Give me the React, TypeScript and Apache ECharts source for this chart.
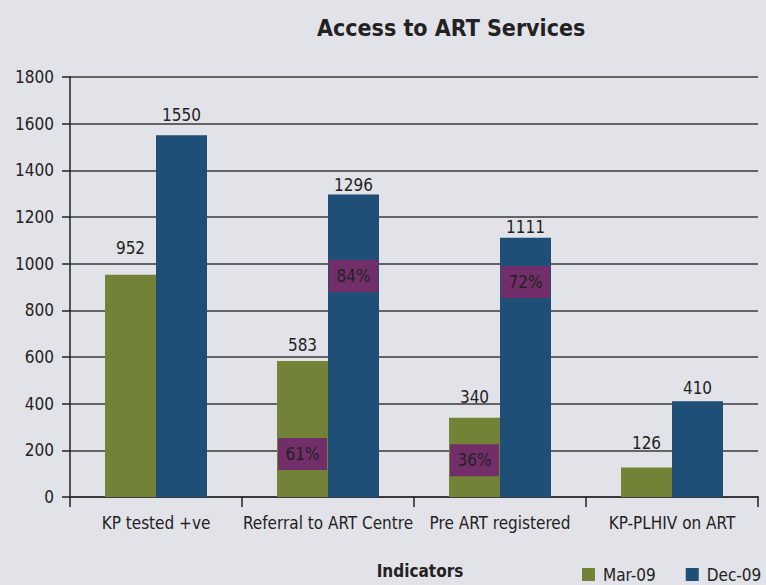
import React, { useEffect, useRef } from "react";
import * as echarts from "echarts";

const categories = ["KP tested +ve", "Referral to ART Centre", "Pre ART registered", "KP-PLHIV on ART"];
const seriesNames = ["Mar-09", "Dec-09"];
const mar09 = [952, 583, 340, 126];
const dec09 = [1550, 1296, 1111, 410];

// percentage badges (category, vertical position in value units, text)
const marBadgeCats = ["Referral to ART Centre", "Pre ART registered"];
const marBadgeValues = [184, 158];
const marBadgeTexts = ["61%", "36%"];
const decBadgeCats = ["Referral to ART Centre", "Pre ART registered"];
const decBadgeValues = [947, 921];
const decBadgeTexts = ["84%", "72%"];

// label placement styles (distance above each bar, px)
const marLabelDist = [18, 7, 12, 16];
const decLabelDist = [12, 1, 2, 5];

const FONT = "'DejaVu Sans Condensed', 'DejaVu Sans', sans-serif";
const TEXT = "#222222";
const GREEN = "#728337";
const BLUE = "#1f4e77";
const PURPLE = "#722e69";

export default function App() {
  const ref = useRef<HTMLDivElement>(null);
  useEffect(() => {
    if (!ref.current) return;
    const chart = echarts.init(ref.current, undefined, { renderer: "svg" });
    const badgeSeries = (cats: string[], vals: number[], texts: string[], offset: number) => ({
      type: "scatter",
      z: 5,
      symbol: "rect",
      symbolSize: [49, 32],
      symbolOffset: [offset, 0],
      itemStyle: { color: PURPLE, opacity: 1 },
      label: {
        show: true,
        position: "inside",
        color: TEXT,
        fontFamily: FONT,
        fontSize: 17,
        formatter: (p: any) => texts[p.dataIndex],
      },
      silent: true,
      data: cats.map((c, i) => [c, vals[i]]),
    });
    const barData = (vals: number[], dists: number[]) =>
      vals.map((v, i) => ({ value: v, label: { distance: dists[i] } }));
    const barLabel = { show: true, position: "top", color: TEXT, fontFamily: FONT, fontSize: 17 };
    chart.setOption({
      animation: false,
      backgroundColor: "#e2e3e8",
      textStyle: { fontFamily: FONT },
      title: {
        text: "Access to ART Services",
        left: 312,
        top: 11,
        textStyle: { fontFamily: FONT, fontWeight: "bold", fontSize: 23, color: TEXT },
      },
      legend: {
        data: seriesNames,
        left: 582,
        top: 566,
        padding: 0,
        itemWidth: 13,
        itemHeight: 13,
        itemGap: 30,
        icon: "rect",
        textStyle: { fontFamily: FONT, fontSize: 17, color: TEXT, padding: [0, 0, 0, 3] },
      },
      grid: { left: 70, right: 8, top: 77, bottom: 88, containLabel: false, outerBoundsMode: "none" },
      xAxis: {
        type: "category",
        data: categories,
        name: "Indicators",
        nameLocation: "middle",
        nameGap: 65,
        nameTextStyle: { fontFamily: FONT, fontWeight: "bold", fontSize: 17, color: TEXT, padding: [0, 0, 0, 12] },
        axisLine: { show: true, lineStyle: { color: "#3a3a3a", width: 2 } },
        axisTick: { show: true, alignWithLabel: false, length: 10, lineStyle: { color: "#222", width: 1.5 } },
        axisLabel: { color: TEXT, fontFamily: FONT, fontSize: 17, margin: 17, interval: 0 },
        splitLine: { show: false },
      },
      yAxis: {
        type: "value",
        min: 0,
        max: 1800,
        interval: 200,
        axisLine: { show: true, lineStyle: { color: "#222", width: 1.5 } },
        axisTick: { show: true, length: 8, lineStyle: { color: "#222", width: 1.5 } },
        axisLabel: { color: TEXT, fontFamily: FONT, fontSize: 17, margin: 16, formatter: (v: number) => String(v) },
        splitLine: { show: true, lineStyle: { color: "#3a3a3a", width: 1.6 } },
      },
      series: [
        {
          name: seriesNames[0],
          type: "bar",
          data: barData(mar09, marLabelDist),
          barWidth: 51,
          barGap: "0%",
          itemStyle: { color: GREEN },
          label: barLabel,
        },
        {
          name: seriesNames[1],
          type: "bar",
          data: barData(dec09, decLabelDist),
          barWidth: 51,
          barGap: "0%",
          itemStyle: { color: BLUE },
          label: barLabel,
        },
        badgeSeries(marBadgeCats, marBadgeValues, marBadgeTexts, -25.5),
        badgeSeries(decBadgeCats, decBadgeValues, decBadgeTexts, 25.5),
      ],
    });
    return () => chart.dispose();
  }, []);
  return <div ref={ref} style={{ position: "absolute", left: 0, top: 0, width: 766, height: 585 }} />;
}
